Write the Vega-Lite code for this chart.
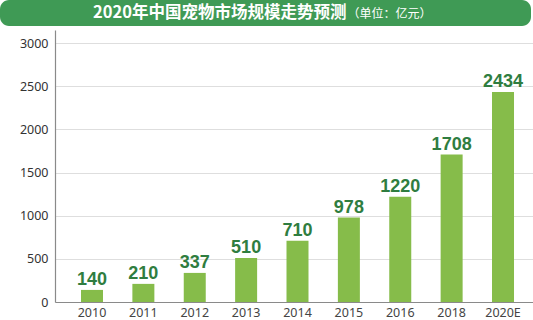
{
  "$schema": "https://vega.github.io/schema/vega-lite/v6.json",
  "padding": 0,
  "background": "white",
  "spacing": 4,
  "config": {
    "view": {"stroke": null},
    "font": "Noto Sans"
  },
  "vconcat": [
    {
      "width": 531,
      "height": 26,
      "view": {"fill": "#3f9a55", "cornerRadius": 9, "stroke": null},
      "data": {"values": [{"main": "2020年中国宠物市场规模走势预测", "unit": "（单位：亿元）"}]},
      "layer": [
        {
          "mark": {"type": "text", "align": "right", "baseline": "middle", "dx": 81, "dy": 0, "font": "Noto Sans CJK SC", "fontSize": 16.5, "fontWeight": "bold", "color": "white"},
          "encoding": {"text": {"field": "main"}}
        },
        {
          "mark": {"type": "text", "align": "left", "baseline": "middle", "dx": 82, "dy": 1, "font": "Noto Sans CJK SC", "fontSize": 12, "color": "white"},
          "encoding": {"text": {"field": "unit"}}
        }
      ]
    },
    {
      "width": 533,
      "height": 272,
      "data": {"values": [
        {"year": "2010", "value": 140},
        {"year": "2011", "value": 210},
        {"year": "2012", "value": 337},
        {"year": "2013", "value": 510},
        {"year": "2014", "value": 710},
        {"year": "2015", "value": 978},
        {"year": "2016", "value": 1220},
        {"year": "2018", "value": 1708},
        {"year": "2020E", "value": 2434}
      ]},
      "encoding": {
        "x": {"field": "year", "type": "nominal", "sort": null,
          "scale": {"paddingInner": 0, "paddingOuter": 0.22, "range": [55, 540]},
          "axis": {"title": null, "labelAngle": 0, "ticks": false, "labelPadding": 4, "labelFontSize": 12.5, "labelColor": "#444", "labelFont": "Noto Sans", "domainColor": "#8a8a8a", "domainWidth": 1.2, "grid": false}},
        "y": {"field": "value", "type": "quantitative",
          "scale": {"domain": [0, 3151], "nice": false},
          "axis": {"title": null, "offset": -55, "values": [0, 500, 1000, 1500, 2000, 2500, 3000], "format": "d", "ticks": false, "labelPadding": 7, "labelFontSize": 12.5, "labelColor": "#333", "labelFont": "Noto Sans", "domainColor": "#8a8a8a", "domainWidth": 1.2, "gridColor": "#dedede", "gridWidth": 1}}
      },
      "layer": [
        {"mark": {"type": "bar", "color": "#86bc4a", "size": 22}},
        {"mark": {"type": "text", "baseline": "bottom", "dy": -1, "fontSize": 18, "fontWeight": "bold", "font": "Liberation Sans", "color": "#2f7d40"},
         "encoding": {"text": {"field": "value", "type": "quantitative", "format": "d"}}}
      ]
    }
  ]
}
